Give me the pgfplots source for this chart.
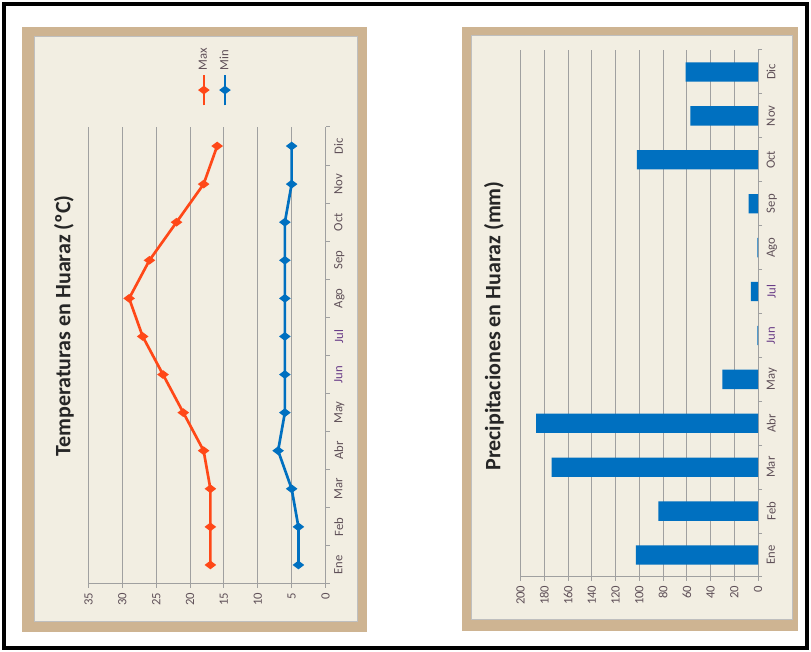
\documentclass[border=0pt]{standalone}
\usepackage{pgfplots}
\pgfplotsset{compat=1.18}
\usepackage{fontspec}
\setmainfont{Carlito}
\definecolor{tanc}{RGB}{206,180,146}
\definecolor{cream}{RGB}{242,238,226}
\definecolor{gridc}{RGB}{160,160,160}
\definecolor{labc}{RGB}{95,80,88}
\definecolor{purp}{RGB}{105,60,135}
\definecolor{maxred}{RGB}{255,72,24}
\definecolor{minblue}{RGB}{0,112,192}
\pgfplotsset{
  excel/.style={
    scale only axis, at={(0,0)}, anchor=south west,
    xmin=0.5, xmax=12.5, ymin=0,
    axis x line*=bottom, axis y line*=left,
    axis line style={gridc, line width=0.75pt, -},
    xtick={0.5,1.5,...,12.5}, x tick label as interval,
    xticklabels={Ene,Feb,Mar,Abr,May,\textcolor{purp}{Jun},\textcolor{purp}{Jul},Ago,Sep,Oct,Nov,Dic},
    ymajorgrids, grid style={gridc, line width=0.75pt},
    tick align=outside, major tick length=3pt,
    tick style={gridc, line width=0.75pt},
    tick label style={font=\fontsize{9.5}{11}\selectfont, text=labc},
    /pgf/number format/assume math mode=true,
    clip=false,
  }
}
\begin{document}
\begin{tikzpicture}[x=0.75pt,y=0.75pt]
% background and frame
\fill[white] (0,0) rectangle (811,652);
\draw[black, line width=2.4pt] (4,4) rectangle (807,648);
% left panel
\fill[tanc] (22,20) rectangle (367,625);
\fill[cream] (34,31) rectangle (357,616);
\draw[black!25, line width=0.6pt] (34,31) rectangle (357,616);
% right panel
\fill[tanc] (462,21) rectangle (798,625);
\fill[cream] (471,33) rectangle (792,617);
\draw[black!25, line width=0.6pt] (471,33) rectangle (792,617);
% titles
\node[rotate=90, font=\bfseries\fontsize{16.5}{19}\selectfont, text=black!85] at (64,326) {Temperaturas en Huaraz (ºC)};
\node[rotate=90, font=\bfseries\fontsize{16.5}{19}\selectfont, text=black!85] at (494,326) {Precipitaciones en Huaraz (mm)};
% left chart
\begin{scope}[shift={(325.5,68)}, rotate=90, transform shape]
\begin{axis}[excel,
  width=342.75pt, height=177.75pt,
  ymax=35, ytick={0,5,...,35},
  legend style={at={(1.035,0.468)}, anchor=west, draw=none, fill=none,
    font=\fontsize{9.5}{11}\selectfont, text=labc, row sep=4pt},
  legend cell align=left,
  legend image code/.code={\draw[mark repeat=2,mark phase=2,#1] plot coordinates {(0pt,0pt) (11.5pt,0pt) (23pt,0pt)};},
]
\addplot[maxred, line width=2pt, mark=diamond*, mark size=2.7pt, mark options={solid}]
  coordinates {(1,17) (2,17) (3,17) (4,18) (5,21) (6,24) (7,27) (8,29) (9,26) (10,22) (11,18) (12,16)};
\addlegendentry{Max}
\addplot[minblue, line width=2pt, mark=diamond*, mark size=2.7pt, mark options={solid}]
  coordinates {(1,4) (2,4) (3,5) (4,7) (5,6) (6,6) (7,6) (8,6) (9,6) (10,6) (11,5) (12,5)};
\addlegendentry{Min}
\end{axis}
\end{scope}
% right chart
\begin{scope}[shift={(758,75)}, rotate=90, transform shape]
\begin{axis}[excel,
  width=395.25pt, height=178pt,
  ymax=200, ytick={0,20,...,200},
  ybar, bar width=14.5pt,
]
\addplot[fill=minblue, draw=none]
  coordinates {(1,103) (2,84) (3,174) (4,187) (5,30) (6,0.6) (7,6) (8,0.6) (9,8) (10,102) (11,57) (12,61)};
\end{axis}
\end{scope}
\end{tikzpicture}
\end{document}
